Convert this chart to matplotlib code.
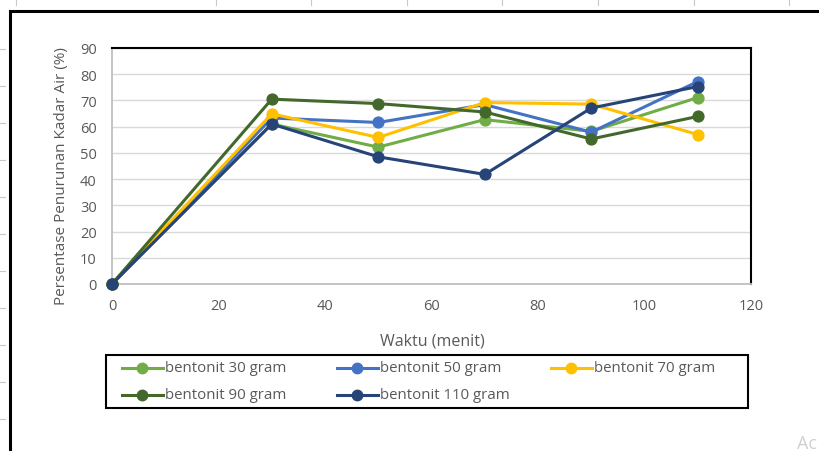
import matplotlib
matplotlib.use("Agg")
import matplotlib.pyplot as plt
from matplotlib.lines import Line2D
from matplotlib.patches import Rectangle

plt.rcParams['font.family'] = ['Open Sans', 'DejaVu Sans']

waktu = [0, 30, 50, 70, 90, 110]
series_names = ["bentonit 30 gram", "bentonit 50 gram", "bentonit 70 gram",
                "bentonit 90 gram", "bentonit 110 gram"]
b30 = [0, 61.0, 52.2, 62.7, 58.2, 71.1]
b50 = [0, 63.3, 61.6, 68.4, 57.9, 77.2]
b70 = [0, 64.9, 55.9, 69.2, 68.6, 57.0]
b90 = [0, 70.5, 68.8, 65.6, 55.3, 63.9]
b110 = [0, 61.0, 48.5, 41.8, 67.1, 75.3]
colors = ["#70AD47", "#4472C4", "#FFC000", "#43682B", "#264478"]
xticks = [0, 20, 40, 60, 80, 100, 120]
yticks = [0, 10, 20, 30, 40, 50, 60, 70, 80, 90]

W, H = 820, 452
fig = plt.figure(figsize=(W / 100, H / 100), dpi=100)
fig.patch.set_facecolor("white")


def fx(px):
    return px / W


def fy(py):
    return 1 - py / H


# outer chart frame (extends beyond the screenshot)
fig.patches.append(Rectangle((fx(10), -0.1), 1.2, fy(12) + 0.1,
                             transform=fig.transFigure, fill=False,
                             edgecolor="black", linewidth=2.2, zorder=0))
# spreadsheet tick marks outside frame
for xx in [16, 216, 311, 407, 502, 598, 694, 789]:
    fig.add_artist(Line2D([fx(xx), fx(xx)], [1, fy(6)], transform=fig.transFigure,
                          color="#C8C8C8", lw=0.8))
for yy in range(50, 452, 37):
    fig.add_artist(Line2D([0, fx(5)], [fy(yy), fy(yy)], transform=fig.transFigure,
                          color="#C8C8C8", lw=0.8))
fig.text(fx(797), fy(444), "Ac", color="#D0D0D0", fontsize=13, va="center", ha="left")

ax = fig.add_axes([fx(112), fy(285), (751 - 112) / W, (285 - 49) / H])
gray = "#595959"
data = [b30, b50, b70, b90, b110]
for name, vals, c in zip(series_names, data, colors):
    ax.plot(waktu, vals, color=c, lw=2.2, marker="o", markersize=7.8,
            label=name, solid_capstyle="round", clip_on=False, zorder=3)

ax.set_xlim(0, 120)
ax.set_ylim(0, 90)
ax.set_xticks(xticks)
ax.set_yticks(yticks)
ax.grid(axis="y", color="#D9D9D9", lw=1)
ax.set_axisbelow(True)
ax.tick_params(axis="x", length=0, labelsize=10.5, colors=gray, pad=10)
ax.tick_params(axis="y", length=0, labelsize=10.5, colors=gray, pad=11)
for s in ["left", "bottom"]:
    ax.spines[s].set_color("#BFBFBF")
    ax.spines[s].set_linewidth(1.3)
for s in ["top", "right"]:
    ax.spines[s].set_color("black")
    ax.spines[s].set_linewidth(1.5)

ax.set_xlabel("Waktu (menit)", fontsize=11.5, color=gray)
ax.xaxis.set_label_coords(0.502, -(333 - 285) / 236, transform=ax.transAxes)
ax.set_ylabel("Persentase Penurunan Kadar Air (%)", fontsize=11, color=gray,
              va="center")
ax.yaxis.set_label_coords((62 - 112) / 639, (285 - 176) / 236, transform=ax.transAxes)

# legend box, drawn as in the reference (row-major, 3 columns)
fig.patches.append(Rectangle((fx(106), fy(409)), (748 - 106) / W, (409 - 356) / H,
                             transform=fig.transFigure, fill=False,
                             edgecolor="black", linewidth=1.5, zorder=1))
col_x = [122, 337, 551]
row_y = [369, 396]
for i, (name, c) in enumerate(zip(series_names, colors)):
    x0 = col_x[i % 3]
    y0 = row_y[i // 3]
    fig.add_artist(Line2D([fx(x0), fx(x0 + 41)], [fy(y0), fy(y0)], transform=fig.transFigure,
                          color=c, lw=2.2))
    fig.add_artist(Line2D([fx(x0 + 20.5)], [fy(y0)], transform=fig.transFigure,
                          color=c, marker="o", markersize=7.5, lw=0))
    fig.text(fx(x0 + 43), fy(y0), name, color=gray, fontsize=10.8, va="center", ha="left")

fig.savefig("out.png", dpi=100, facecolor="white")
